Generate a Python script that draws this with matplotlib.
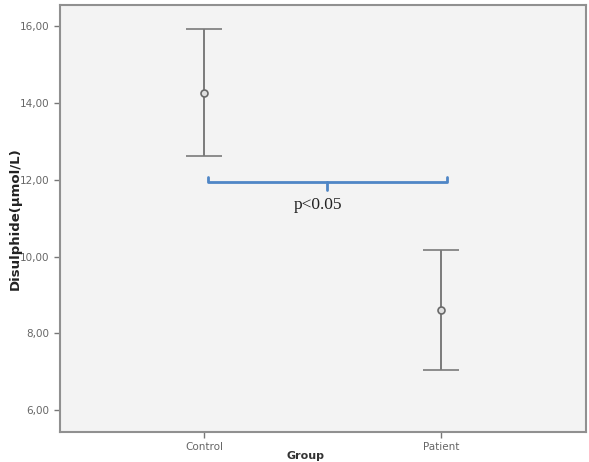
import numpy as np
import matplotlib.pyplot as plt

groups = ["Control", "Patient"]
means = [14.26, 8.60]
upper = [15.92, 10.18]
lower = [12.62, 7.04]
y_ticks = [6, 8, 10, 12, 14, 16]
y_tick_labels = ["6,00", "8,00", "10,00", "12,00", "14,00", "16,00"]
p_text = "p<0.05"

x = np.arange(len(groups))
means = np.array(means)
err = [means - np.array(lower), np.array(upper) - means]

fig = plt.figure(figsize=(5.89, 4.62), dpi=100)
ax = fig.add_axes([0.1019, 0.0649, 0.893, 0.924])
ax.set_facecolor("#f3f3f3")

ax.errorbar(x, means, yerr=err, fmt="o", color="#7a7a7a", ecolor="#7a7a7a",
            elinewidth=1.4, capsize=13, capthick=1.4, markersize=5,
            markerfacecolor="#e0e0e0", markeredgecolor="#6a6a6a", markeredgewidth=1.2)

# significance bracket
bx0, bx1, by = 0.017, 1.025, 11.95
blue = "#4f86c6"
ax.plot([bx0, bx0, bx1, bx1], [12.07, by, by, 12.07], color=blue, lw=2.0,
        solid_joinstyle="round", solid_capstyle="round")
ax.plot([0.52, 0.52], [by, 11.74], color=blue, lw=2.0, solid_capstyle="round")
ax.text(0.48, 11.34, p_text, ha="center", va="center", fontsize=12.5,
        family="Liberation Serif", color="#222222")

ax.set_xlim(-0.608, 1.612)
ax.set_ylim(5.43, 16.55)
ax.set_xticks(x)
ax.set_xticklabels(groups)
ax.set_yticks(y_ticks)
ax.set_yticklabels(y_tick_labels)
ax.tick_params(axis="both", direction="out", length=4, width=1, color="#777777",
               labelsize=7.5, labelcolor="#666666")
for s in ax.spines.values():
    s.set_color("#909090")
    s.set_linewidth(1.5)

ax.set_ylabel("Disulphide(µmol/L)", fontsize=9.5, fontweight="bold", color="#222222")
ax.yaxis.set_label_coords(-0.072, 0.5)
fig.text(0.518, 0.003, "Group", ha="center", va="bottom", fontsize=8,
         fontweight="bold", color="#333333")

fig.savefig("out.png", dpi=100)
